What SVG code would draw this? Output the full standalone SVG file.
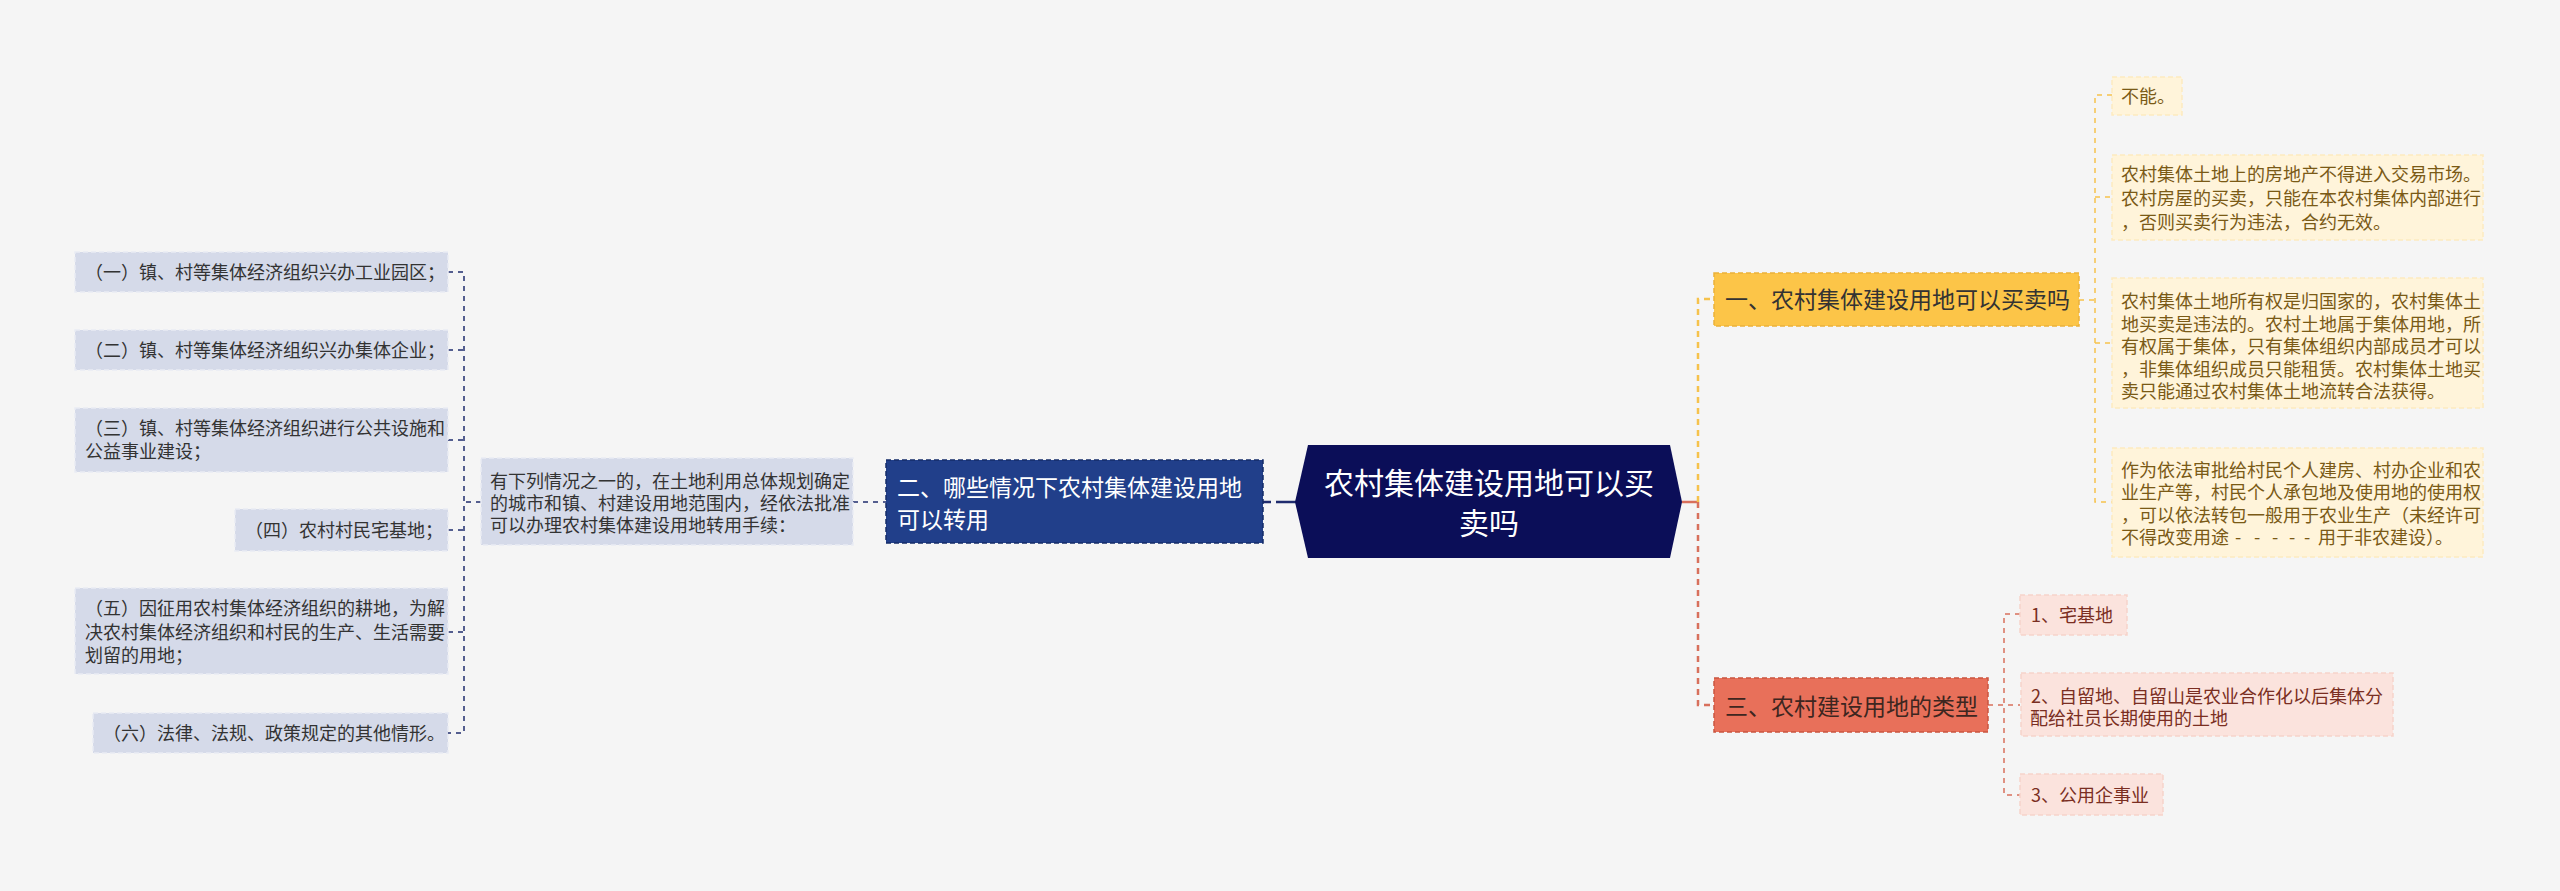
<svg xmlns="http://www.w3.org/2000/svg" width="2560" height="891" viewBox="0 0 2560 891">
<style>
text{font-family:"Noto Sans CJK SC","Liberation Sans",sans-serif;}
.leafL rect{fill:#d5dae9;stroke:#e9ecf4;stroke-width:1.5;stroke-dasharray:5 3;}
.leafL text{font-size:18px;fill:#333333;}
.leafY rect{fill:#fff4da;stroke:#fdeac0;stroke-width:1.5;stroke-dasharray:5 3;}
.leafY text{font-size:18px;fill:#7a5a16;}
.leafR rect{fill:#fbe3dd;stroke:#f6d3ca;stroke-width:1.5;stroke-dasharray:5 3;}
.leafR text{font-size:18px;fill:#7a2e22;}
.cL{fill:none;stroke:#1f2c6e;stroke-width:1.5;stroke-dasharray:5 5;}
.cL2{fill:none;stroke:#1f2c6e;stroke-width:2.5;stroke-dasharray:8 5;}
.cY{fill:none;stroke:#f6c24c;stroke-width:1.5;stroke-dasharray:5 5;}
.cY2{fill:none;stroke:#f6c24c;stroke-width:2.5;stroke-dasharray:6 5;}
.cR{fill:none;stroke:#d8705c;stroke-width:1.5;stroke-dasharray:5 5;}
.cR2{fill:none;stroke:#d8705c;stroke-width:2.5;stroke-dasharray:6 5;}
</style>
<rect x="0" y="0" width="2560" height="891" fill="#f5f5f5"/>

<g id="connectors">
  <path class="cL2" d="M1263,502 H1281"/>
  <path d="M1281,502 H1296" fill="none" stroke="#1f2c6e" stroke-width="2.5"/>
  <path class="cL" d="M853,502 H886"/>
  <path class="cL" d="M481,502 H464"/>
  <path class="cL" d="M448,272 H464 V733 H448"/>
  <path class="cL" d="M448,350 H464"/>
  <path class="cL" d="M448,440 H464"/>
  <path class="cL" d="M448,530 H464"/>
  <path class="cL" d="M448,632 H464"/>
  <path d="M1682,502 H1698" fill="none" stroke="#d8705c" stroke-width="2.5"/>
  <path class="cY2" d="M1698,502 V299 H1714"/>
  <path class="cR2" d="M1698,502 V705 H1714"/>
  <path class="cY" d="M2079,300 H2095"/>
  <path class="cY" d="M2112,95 H2095 V502 H2112"/>
  <path class="cY" d="M2095,197 H2112"/>
  <path class="cY" d="M2095,343 H2112"/>
  <path class="cR" d="M1988,705 H2020"/>
  <path class="cR" d="M2020,614 H2004 V795 H2020"/>
</g>

<g id="root">
  <polygon points="1295,502 1308,445 1670,445 1682,502 1670,558 1308,558" fill="#0b0e58"/>
  <text x="1489" y="494" font-size="30" fill="#ffffff" text-anchor="middle">农村集体建设用地可以买</text>
  <text x="1489" y="534" font-size="30" fill="#ffffff" text-anchor="middle">卖吗</text>
</g>

<g id="branch2">
  <rect x="886" y="460" width="377" height="83" fill="#213f8a" stroke="#152c68" stroke-width="1.5" stroke-dasharray="5 3"/>
  <text x="897" y="496" font-size="23" fill="#ffffff">二、哪些情况下农村集体建设用地</text>
  <text x="897" y="528" font-size="23" fill="#ffffff">可以转用</text>
</g>

<g id="desc" class="leafL">
  <rect x="481" y="458" width="372" height="87"/>
  <text x="490" y="488">有下列情况之一的，在土地利用总体规划确定</text>
  <text x="490" y="510">的城市和镇、村建设用地范围内，经依法批准</text>
  <text x="490" y="532">可以办理农村集体建设用地转用手续：</text>
</g>

<g id="left1" class="leafL">
  <rect x="75" y="252" width="373" height="40"/>
  <text x="85" y="279">（一）镇、村等集体经济组织兴办工业园区；</text>
</g>
<g id="left2" class="leafL">
  <rect x="75" y="330" width="373" height="40"/>
  <text x="85" y="357">（二）镇、村等集体经济组织兴办集体企业；</text>
</g>
<g id="left3" class="leafL">
  <rect x="75" y="408" width="373" height="64"/>
  <text x="85" y="435">（三）镇、村等集体经济组织进行公共设施和</text>
  <text x="85" y="458">公益事业建设；</text>
</g>
<g id="left4" class="leafL">
  <rect x="235" y="509" width="213" height="42"/>
  <text x="245" y="537">（四）农村村民宅基地；</text>
</g>
<g id="left5" class="leafL">
  <rect x="75" y="588" width="373" height="86"/>
  <text x="85" y="615">（五）因征用农村集体经济组织的耕地，为解</text>
  <text x="85" y="639">决农村集体经济组织和村民的生产、生活需要</text>
  <text x="85" y="662">划留的用地；</text>
</g>
<g id="left6" class="leafL">
  <rect x="93" y="713" width="355" height="40"/>
  <text x="103" y="740">（六）法律、法规、政策规定的其他情形。</text>
</g>

<g id="branch1">
  <rect x="1714" y="273" width="365" height="53" fill="#fcc548" stroke="#eab13a" stroke-width="1.5" stroke-dasharray="5 3"/>
  <text x="1725" y="308" font-size="23" fill="#333333">一、农村集体建设用地可以买卖吗</text>
</g>

<g id="right1a" class="leafY">
  <rect x="2112" y="77" width="70" height="38"/>
  <text x="2121" y="103">不能。</text>
</g>
<g id="right1b" class="leafY">
  <rect x="2112" y="155" width="371" height="85"/>
  <text x="2121" y="181">农村集体土地上的房地产不得进入交易市场。</text>
  <text x="2121" y="205">农村房屋的买卖，只能在本农村集体内部进行</text>
  <text x="2121" y="229">，否则买卖行为违法，合约无效。</text>
</g>
<g id="right1c" class="leafY">
  <rect x="2112" y="278" width="371" height="130"/>
  <text x="2121" y="308">农村集体土地所有权是归国家的，农村集体土</text>
  <text x="2121" y="331">地买卖是违法的。农村土地属于集体用地，所</text>
  <text x="2121" y="353">有权属于集体，只有集体组织内部成员才可以</text>
  <text x="2121" y="376">，非集体组织成员只能租赁。农村集体土地买</text>
  <text x="2121" y="398">卖只能通过农村集体土地流转合法获得。</text>
</g>
<g id="right1d" class="leafY">
  <rect x="2112" y="448" width="371" height="109"/>
  <text x="2121" y="477">作为依法审批给村民个人建房、村办企业和农</text>
  <text x="2121" y="499">业生产等，村民个人承包地及使用地的使用权</text>
  <text x="2121" y="522">，可以依法转包一般用于农业生产（未经许可</text>
  <text x="2121" y="544">不得改变用途<tspan x="2235">-</tspan><tspan x="2254">-</tspan><tspan x="2272">-</tspan><tspan x="2289">-</tspan><tspan x="2304">-</tspan><tspan x="2318">用于非农建设）。</tspan></text>
</g>

<g id="branch3">
  <rect x="1714" y="678" width="274" height="54" fill="#e8705a" stroke="#c9543f" stroke-width="1.5" stroke-dasharray="5 3"/>
  <text x="1725" y="715" font-size="23" fill="#3d2620">三、农村建设用地的类型</text>
</g>

<g id="right3a" class="leafR">
  <rect x="2020" y="595" width="107" height="40"/>
  <text x="2031" y="622">1、宅基地</text>
</g>
<g id="right3b" class="leafR">
  <rect x="2021" y="673" width="372" height="63"/>
  <text x="2031" y="703">2、自留地、自留山是农业合作化以后集体分</text>
  <text x="2030" y="725">配给社员长期使用的土地</text>
</g>
<g id="right3c" class="leafR">
  <rect x="2020" y="774" width="143" height="41"/>
  <text x="2031" y="802">3、公用企事业</text>
</g>
</svg>
